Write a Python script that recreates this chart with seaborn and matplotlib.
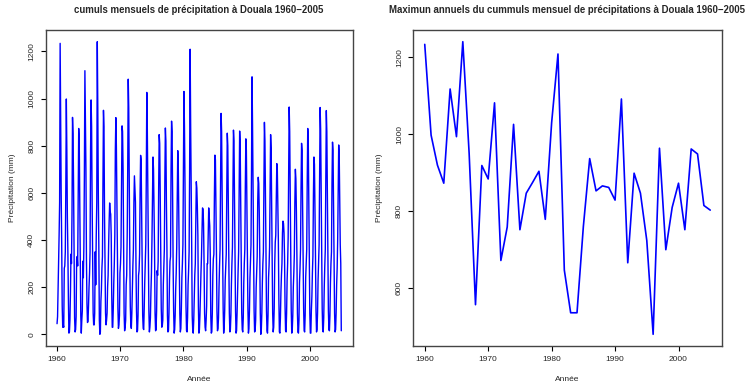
import matplotlib
matplotlib.use("Agg")
import matplotlib.pyplot as plt
import numpy as np
import pandas as pd
import seaborn as sns

sns.set_style("white")
plt.rcParams["font.family"] = ["Liberation Sans", "DejaVu Sans"]

years = list(range(1960, 2006))

# monthly totals (mm), Jan..Dec
precip_1960s = [
    [45, 75, 190, 290, 420, 560, 1234, 930, 600, 390, 120, 30],
    [40, 30, 280, 290, 350, 620, 998, 780, 500, 350, 150, 5],
    [10, 60, 180, 340, 300, 510, 920, 850, 640, 340, 70, 10],
    [20, 75, 320, 330, 290, 600, 873, 820, 560, 300, 80, 5],
    [60, 100, 310, 240, 370, 680, 1118, 920, 700, 320, 130, 50],
    [55, 120, 200, 260, 350, 780, 994, 880, 560, 330, 90, 40],
    [40, 90, 350, 210, 420, 560, 1241, 960, 600, 370, 60, 0],
    [10, 140, 190, 280, 330, 650, 950, 880, 520, 300, 90, 40],
    [60, 90, 200, 250, 380, 480, 557, 520, 510, 420, 170, 30],
    [30, 110, 220, 300, 420, 780, 919, 800, 590, 350, 110, 25],
]
precip_1970s = [
    [40, 80, 260, 300, 370, 620, 884, 860, 700, 360, 90, 15],
    [30, 60, 210, 250, 420, 700, 1082, 960, 620, 340, 120, 40],
    [25, 90, 190, 290, 360, 560, 672, 620, 560, 300, 100, 10],
    [15, 80, 250, 270, 340, 600, 759, 740, 520, 330, 80, 25],
    [20, 110, 220, 300, 380, 660, 1026, 870, 620, 350, 100, 10],
    [30, 70, 180, 260, 400, 590, 752, 700, 540, 360, 90, 15],
    [20, 100, 270, 250, 310, 620, 847, 810, 600, 330, 110, 30],
    [35, 60, 210, 290, 360, 660, 875, 820, 560, 370, 80, 10],
    [15, 90, 230, 310, 330, 700, 904, 860, 610, 300, 100, 5],
    [20, 80, 190, 260, 370, 580, 779, 720, 520, 340, 90, 10],
]
precip_1980s = [
    [25, 110, 240, 300, 380, 720, 1030, 880, 640, 330, 120, 15],
    [10, 70, 210, 270, 350, 690, 1209, 890, 650, 380, 80, 20],
    [5, 60, 150, 250, 300, 480, 647, 620, 540, 420, 120, 5],
    [20, 80, 170, 260, 330, 430, 536, 530, 470, 300, 90, 30],
    [15, 60, 120, 300, 300, 420, 536, 500, 460, 340, 80, 5],
    [10, 90, 250, 320, 340, 580, 760, 740, 560, 350, 100, 15],
    [25, 70, 200, 290, 360, 650, 937, 860, 600, 380, 110, 5],
    [30, 100, 230, 280, 340, 620, 853, 800, 580, 320, 90, 10],
    [20, 80, 210, 300, 370, 640, 866, 820, 590, 360, 100, 5],
    [15, 90, 190, 270, 350, 610, 862, 810, 560, 330, 90, 20],
]
precip_1990s = [
    [10, 70, 220, 300, 360, 630, 829, 780, 570, 340, 110, 5],
    [25, 100, 240, 310, 380, 700, 1092, 880, 620, 350, 100, 10],
    [15, 60, 200, 260, 330, 560, 666, 640, 520, 330, 90, 0],
    [20, 90, 220, 300, 350, 640, 899, 820, 600, 360, 100, 15],
    [5, 80, 240, 290, 370, 620, 847, 790, 560, 340, 90, 10],
    [30, 110, 300, 390, 420, 580, 724, 700, 560, 400, 150, 10],
    [5, 70, 180, 250, 300, 430, 480, 470, 430, 330, 120, 15],
    [10, 90, 230, 300, 410, 720, 964, 860, 600, 350, 100, 5],
    [20, 80, 200, 260, 340, 560, 700, 660, 520, 330, 90, 10],
    [5, 60, 220, 280, 360, 620, 810, 780, 560, 340, 110, 15],
]
precip_2000s = [
    [10, 80, 240, 300, 360, 650, 873, 820, 580, 350, 90, 5],
    [5, 100, 160, 260, 330, 590, 752, 720, 540, 330, 100, 10],
    [20, 90, 230, 310, 380, 700, 962, 870, 600, 370, 110, 15],
    [10, 70, 200, 290, 360, 680, 949, 860, 590, 340, 100, 20],
    [15, 80, 220, 300, 350, 640, 815, 780, 560, 350, 90, 10],
    [20, 90, 210, 280, 400, 620, 803, 760, 560, 380, 300, 15],
]

monthly = np.array(precip_1960s + precip_1970s + precip_1980s
                   + precip_1990s + precip_2000s, dtype=float).ravel()
df = pd.DataFrame({
    "year": np.repeat(years, 12),
    "t": np.linspace(1960, 2005, len(monthly)),
    "precip": monthly,
})
annual = df.groupby("year", as_index=False)["precip"].max()


def r_style(ax, y, yticks):
    lo, hi = min(y), max(y)
    pad = 0.04 * (hi - lo)
    ax.set_ylim(lo - pad, hi + pad)
    ax.set_xlim(1960 - 0.04 * 45, 2005 + 0.04 * 45)
    ax.set_xticks([1960, 1970, 1980, 1990, 2000])
    ax.set_yticks(yticks)
    ax.tick_params(axis="both", direction="out", length=3.5, width=0.8,
                   labelsize=6, pad=4, color="black", bottom=True, left=True)
    for lab in ax.get_yticklabels():
        lab.set_rotation(90)
        lab.set_va("center")
    for sp in ax.spines.values():
        sp.set_color("#444444")
        sp.set_linewidth(1.0)
    ax.set_xlabel("Année", fontsize=6, labelpad=9)
    ax.set_ylabel("Précipitation (mm)", fontsize=6, labelpad=9)


fig = plt.figure(figsize=(7.5, 3.9), dpi=100)
ax1 = fig.add_axes([0.0609, 0.1128, 0.4093, 0.8103])
ax2 = fig.add_axes([0.5511, 0.1128, 0.4111, 0.8103])

sns.lineplot(data=df, x="t", y="precip", ax=ax1, color="blue", linewidth=1.0)
r_style(ax1, df["precip"], [0, 200, 400, 600, 800, 1000, 1200])
ax1.set_title("cumuls mensuels de précipitation à Douala 1960\u22122005",
              fontsize=6.9, fontweight="bold", pad=12)

sns.lineplot(data=annual, x="year", y="precip", ax=ax2, color="blue", linewidth=1.2)
r_style(ax2, annual["precip"], [600, 800, 1000, 1200])
ax2.set_title("Maximun annuels du cummuls mensuel de précipitations à Douala 1960\u22122005",
              fontsize=6.9, fontweight="bold", pad=12)

fig.savefig("out.png", dpi=100)
